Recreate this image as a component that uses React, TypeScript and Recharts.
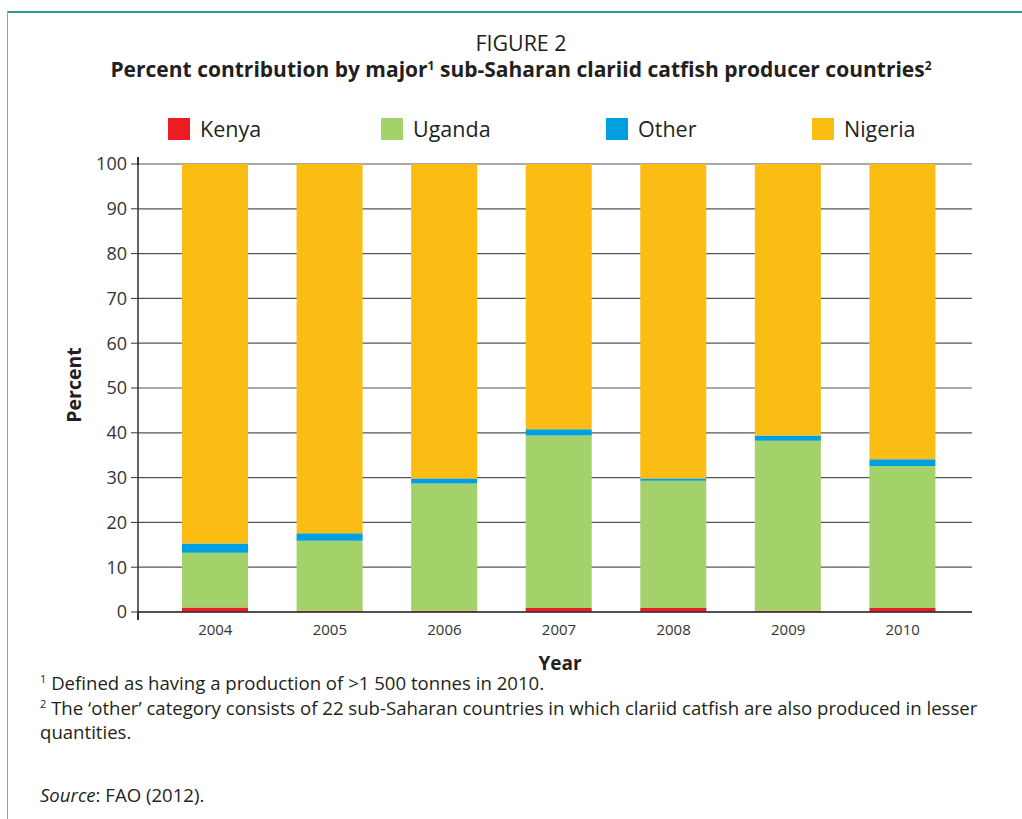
import React from "react";
import { BarChart, Bar, XAxis, YAxis, CartesianGrid } from "recharts";

// Percent contribution by country
const years = ["2004", "2005", "2006", "2007", "2008", "2009", "2010"];
const kenya = [1, 0.3, 0.3, 0.9, 0.9, 0.3, 0.9];
const uganda = [12.2, 15.6, 28.4, 38.5, 28.4, 37.9, 31.7];
const other = [2.1, 1.7, 1.1, 1.4, 0.5, 1.2, 1.5];
const nigeria = [84.7, 82.4, 70.2, 59.2, 70.2, 60.6, 65.9];
const yTicks = [0, 10, 20, 30, 40, 50, 60, 70, 80, 90, 100];

const series = [
  { key: "Kenya", color: "#ED1C24" },
  { key: "Uganda", color: "#A3D16A" },
  { key: "Other", color: "#009FDF" },
  { key: "Nigeria", color: "#FBBD13" },
];

const data = years.map((year, i) => ({
  year,
  Kenya: kenya[i],
  Uganda: uganda[i],
  Other: other[i],
  Nigeria: nigeria[i],
}));

const font = "'Open Sans', 'Noto Sans', sans-serif";
const ink = "#231f20";

const legendX = [168, 381, 606, 812];

function Sup({ n, size = 12, lift = 7 }: { n: string; size?: number; lift?: number }) {
  return (
    <span style={{ fontSize: size, position: "relative", top: -lift, lineHeight: 0 }}>{n}</span>
  );
}

export default function App() {
  return (
    <div
      style={{
        position: "absolute",
        left: 0,
        top: 0,
        width: 1022,
        height: 819,
        background: "#fff",
        fontFamily: font,
        color: ink,
        overflow: "hidden",
      }}
    >
      {/* frame */}
      <div style={{ position: "absolute", left: 7, top: 11, right: 0, height: 2, background: "#2f9c98" }} />
      <div style={{ position: "absolute", left: 7, top: 11, bottom: 0, width: 1, background: "#6fb0ad" }} />

      {/* titles */}
      <div style={{ position: "absolute", top: 28, left: 0, width: 1042, textAlign: "center", fontSize: 21.4 }}>
        FIGURE 2
      </div>
      <div style={{ position: "absolute", top: 55, left: 0, width: 1042, textAlign: "center", fontSize: 21, fontWeight: 700 }}>
        Percent contribution by major<Sup n="1" /> sub-Saharan clariid catfish producer countries<Sup n="2" />
      </div>

      {/* legend */}
      {series.map((s, i) => (
        <div key={s.key} style={{ position: "absolute", left: legendX[i], top: 114, display: "flex", alignItems: "center" }}>
          <div style={{ width: 22, height: 22, background: s.color, marginRight: 10 }} />
          <span style={{ fontSize: 21.5 }}>{s.key}</span>
        </div>
      ))}

      <div style={{ position: "absolute", left: 0, top: 0 }}>
        <BarChart
          width={1022}
          height={819}
          data={data}
          margin={{ top: 164, right: 50, bottom: 177, left: 78 }}
        >
          <CartesianGrid vertical={false} stroke="#555" strokeWidth={1.2} />
          <XAxis
            dataKey="year"
            height={30}
            padding={{ left: 20, right: 12 }}
            tickLine={false}
            axisLine={{ stroke: "#333", strokeWidth: 1.5 }}
            tick={{ fontSize: 15, fill: "#333", fontFamily: font }}
            tickMargin={6}
          />
          <YAxis
            width={60}
            domain={[0, 100]}
            ticks={yTicks}
            interval={0}
            tickSize={7}
            tickMargin={4}
            axisLine={{ stroke: "#333", strokeWidth: 1.5 }}
            tickLine={{ stroke: "#333" }}
            tick={{ fontSize: 18, fill: "#333", fontFamily: font }}
          />
          {series.map((s) => (
            <Bar key={s.key} dataKey={s.key} stackId="a" fill={s.color} barSize={66} isAnimationActive={false} />
          ))}
        </BarChart>
      </div>

      {/* y axis line overhang above and below the plot */}
      <div style={{ position: "absolute", left: 137.25, top: 157, width: 1.5, height: 8, background: "#333" }} />
      <div style={{ position: "absolute", left: 137.25, top: 611, width: 1.5, height: 9, background: "#333" }} />

      {/* axis titles */}
      <div
        style={{
          position: "absolute",
          left: 73,
          top: 385,
          transform: "translate(-50%, -50%) rotate(-90deg)",
          fontSize: 19.5,
          fontWeight: 700,
          whiteSpace: "nowrap",
        }}
      >
        Percent
      </div>
      <div style={{ position: "absolute", left: 460, width: 200, top: 650, textAlign: "center", fontSize: 19, fontWeight: 700 }}>
        Year
      </div>

      {/* notes */}
      <div style={{ position: "absolute", left: 40, top: 671, fontSize: 18.6, lineHeight: "24px" }}>
        <div>
          <Sup n="1" size={11} /> Defined as having a production of &gt;1 500 tonnes in 2010.
        </div>
        <div style={{ marginTop: 1 }}>
          <Sup n="2" size={11} /> The ‘other’ category consists of 22 sub-Saharan countries in which clariid catfish are also produced in lesser
        </div>
        <div>quantities.</div>
        <div style={{ marginTop: 39 }}>
          <i>Source</i>: FAO (2012).
        </div>
      </div>
    </div>
  );
}
